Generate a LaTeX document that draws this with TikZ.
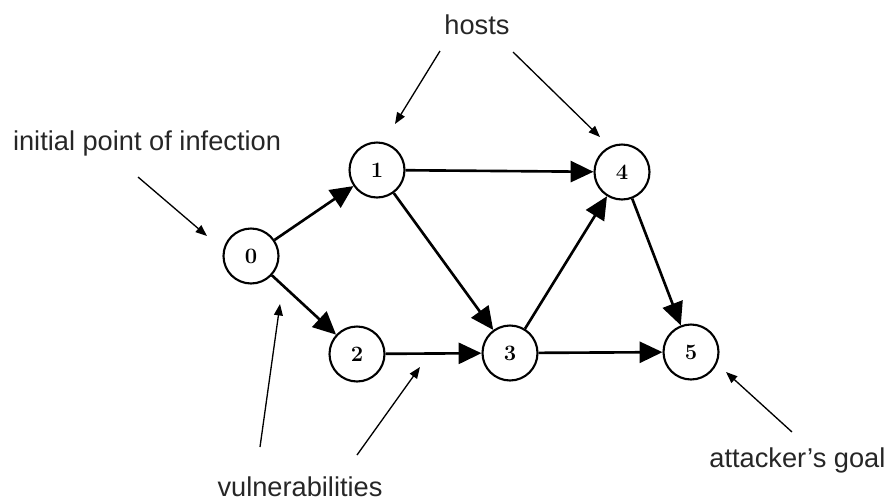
\documentclass[tikz,border=0pt]{standalone}
\usepackage{fontspec}
\newfontfamily\notefont{Liberation Sans}
\usetikzlibrary{positioning, arrows.meta}

\begin{document}
\begin{tikzpicture}[x=0.02cm, y=-0.02cm,
    host/.style={draw, circle, fill=white, line width=1.2pt, minimum size=1.1cm, inner sep=0pt, font=\fontsize{12.5}{14}\selectfont\bfseries},
    edge/.style={line width=1.5pt, -{Triangle[length=13pt, width=12pt]}},
    note/.style={font=\notefont\fontsize{15.5}{18}\selectfont, text=black!85, inner sep=0pt},
    pointer/.style={line width=0.75pt, -{Triangle[length=6.5pt, width=5pt]}}]
                    \useasboundingbox (0,0) rectangle (889,501);
                    % Hosts of the network
                    \node[host] (N0) at (251,256) {0};
                    \node[host] (N1) at (377,170) {1};
                    \node[host] (N2) at (357,354) {2};
                    \node[host] (N3) at (510,353) {3};
                    \node[host] (N4) at (622,172) {4};
                    \node[host] (N5) at (691,352) {5};

                    % Exploits between hosts
                    \draw[edge] (N0) -- (N1);
                    \draw[edge] (N0) -- (N2);
                    \draw[edge] (N1) -- (N4);
                    \draw[edge] (N1) -- (N3);
                    \draw[edge] (N2) -- (N3);
                    \draw[edge] (N3) -- (N4);
                    \draw[edge] (N3) -- (N5);
                    \draw[edge] (N4) -- (N5);

                    % Annotations
                    \node[note] (Start) at (147,143) {initial point of infection};
                    \node[note] (Hosts) at (477,25) {hosts};
                    \node[note] (Vuln) at (300,487) {vulnerabilities};
                    \node[note, anchor=west] (Goal) at (709,460) {attacker’s goal};

                    % Ends of the pointers
                    \coordinate (S1) at (138,177);  \coordinate (S2) at (207,236);
                    \coordinate (H1) at (440,51);   \coordinate (H2) at (395,124);
                    \coordinate (H3) at (513,52);   \coordinate (H4) at (600,137);
                    \coordinate (V1) at (260,447);  \coordinate (V2) at (280,304);
                    \coordinate (V3) at (357,455);  \coordinate (V4) at (420,367);
                    \coordinate (G1) at (792,432);  \coordinate (G2) at (726,372);

                    \draw[pointer] (S1) -- (S2);
                    \draw[pointer] (H1) -- (H2);
                    \draw[pointer] (H3) -- (H4);
                    \draw[pointer] (V1) -- (V2);
                    \draw[pointer] (V3) -- (V4);
                    \draw[pointer] (G1) -- (G2);
                \end{tikzpicture}
\end{document}
